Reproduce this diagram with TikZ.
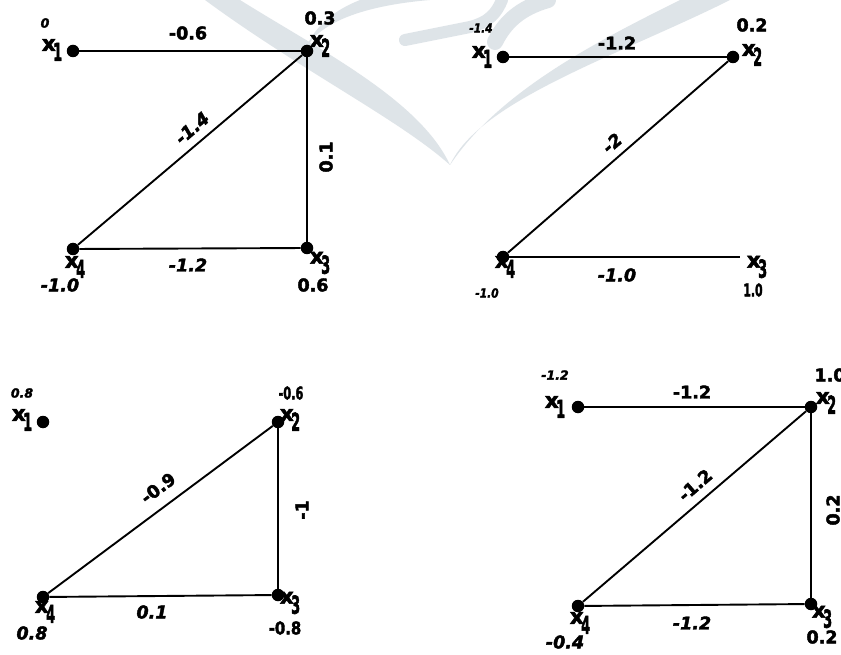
\documentclass[tikz,border=0pt]{standalone}
\usepackage{fontspec}
\setmainfont{DejaVu Sans}[BoldFeatures={FakeBold=2.5},BoldItalicFeatures={FakeBold=2.5}]
\usepackage{graphicx}
\definecolor{wm}{RGB}{222,228,232}
\newcommand{\xv}[1]{x\kern-2.5pt\raisebox{-10pt}{\scalebox{0.6}[1.15]{#1}}}
\newcommand{\cnd}[2][0.65]{\scalebox{#1}[1]{#2}}
\begin{document}
\begin{tikzpicture}[x=1pt,y=-1pt,
  dot/.style={circle,fill=black,inner sep=0pt,minimum size=12.5pt},
  edge/.style={line width=1.9pt,black},
  lab/.style={font=\fontsize{17.5}{17.5}\selectfont\bfseries,inner sep=0pt},
  ilab/.style={font=\fontsize{17.5}{17.5}\selectfont\bfseries\itshape,inner sep=0pt},
  slab/.style={font=\fontsize{12.5}{12.5}\selectfont\bfseries\itshape,inner sep=0pt},
  xl/.style={font=\fontsize{21.5}{21.5}\selectfont\bfseries,inner sep=0pt}]
\useasboundingbox (0,0) rectangle (841,655);
\fill[white] (0,0) rectangle (841,655);
% watermark
\fill[wm] (240,0) .. controls (320,50) and (420,100) .. (450,165)
  .. controls (400,120) and (300,70) .. (205,0) -- cycle;
\fill[wm] (730,0) .. controls (620,55) and (480,100) .. (450,165)
  .. controls (500,90) and (600,40) .. (680,0) -- cycle;
\fill[wm] (305,50) .. controls (320,20) and (370,5) .. (430,0)
  -- (360,0) .. controls (335,10) and (315,25) .. (305,50) -- cycle;
\draw[wm,line width=12pt,line cap=round] (405,40) -- (470,27) .. controls (490,22) and (497,12) .. (502,0);
\draw[wm,line width=16pt,line cap=round] (495,42) .. controls (505,22) and (520,8) .. (548,0);
% ---------------- panel 1
\node[dot] (a1) at (73,51) {};
\node[dot] (a2) at (307,51) {};
\node[dot] (a3) at (307,248) {};
\node[dot] (a4) at (73,249) {};
\draw[edge] (a1) -- (a2);
\draw[edge] (a2) -- (a3);
\draw[edge] (a4) -- (a2);
\draw[edge] (a4) -- (a3);
\node[slab] at (45,23) {0};
\node[xl] at (52,50) {\xv{1}};
\node[lab] at (188,33) {-0.6};
\node[lab] at (320,18) {0.3};
\node[xl] at (320,46) {\xv{2}};
\node[lab,rotate=90] at (326,157) {0.1};
\node[ilab,rotate=41] at (192,128) {-1.4};
\node[xl] at (320,263) {\xv{3}};
\node[lab] at (313,285) {0.6};
\node[xl] at (75,267) {\xv{4}};
\node[ilab] at (60,285) {-1.0};
\node[ilab] at (188,265) {-1.2};
% ---------------- panel 2
\node[dot] (b1) at (503,57) {};
\node[dot] (b2) at (733,57) {};
\node[dot] (b4) at (503,257) {};
\coordinate (b3) at (740,257);
\draw[edge] (b1) -- (b2);
\draw[edge] (b4) -- (b2);
\draw[edge] (b4) -- (b3);
\node[slab] at (481,28) {\cnd[0.85]{-1.4}};
\node[xl] at (482,57) {\xv{1}};
\node[lab] at (617,43) {-1.2};
\node[lab] at (752,25) {0.2};
\node[xl] at (752,55) {\xv{2}};
\node[ilab,rotate=41] at (612,143) {-2};
\node[ilab] at (617,275) {-1.0};
\node[xl] at (757,267) {\xv{3}};
\node[lab] at (753,290) {\cnd[0.62]{1.0}};
\node[xl] at (505,267) {\xv{4}};
\node[slab] at (487,293) {\cnd[0.85]{-1.0}};
% ---------------- panel 3
\node[dot] (c1) at (43,422) {};
\node[dot] (c2) at (278,422) {};
\node[dot] (c3) at (278,595) {};
\node[dot] (c4) at (43,597) {};
\draw[edge] (c2) -- (c3);
\draw[edge] (c4) -- (c2);
\draw[edge] (c4) -- (c3);
\node[slab] at (22,393) {0.8};
\node[xl] at (22,420) {\xv{1}};
\node[lab] at (291,393) {\cnd{-0.6}};
\node[xl] at (290,420) {\xv{2}};
\node[lab,rotate=90] at (302,510) {-1};
\node[xl] at (290,603) {\xv{3}};
\node[lab] at (285,628) {\cnd[0.85]{-0.8}};
\node[xl] at (45,612) {\xv{4}};
\node[ilab] at (32,633) {0.8};
\node[lab,rotate=37] at (158,488) {-0.9};
\node[ilab] at (152,612) {0.1};
% ---------------- panel 4
\node[dot] (d1) at (578,407) {};
\node[dot] (d2) at (811,407) {};
\node[dot] (d3) at (811,604) {};
\node[dot] (d4) at (578,606) {};
\draw[edge] (d1) -- (d2);
\draw[edge] (d2) -- (d3);
\draw[edge] (d4) -- (d2);
\draw[edge] (d4) -- (d3);
\node[slab] at (555,375) {-1.2};
\node[xl] at (555,407) {\xv{1}};
\node[lab] at (692,392) {-1.2};
\node[lab] at (830,375) {1.0};
\node[xl] at (826,403) {\xv{2}};
\node[lab,rotate=90] at (833,510) {0.2};
\node[lab,rotate=41] at (695,485) {-1.2};
\node[xl] at (822,617) {\xv{3}};
\node[lab] at (822,637) {0.2};
\node[xl] at (580,623) {\xv{4}};
\node[ilab] at (565,642) {-0.4};
\node[ilab] at (692,623) {-1.2};
\end{tikzpicture}
\end{document}
